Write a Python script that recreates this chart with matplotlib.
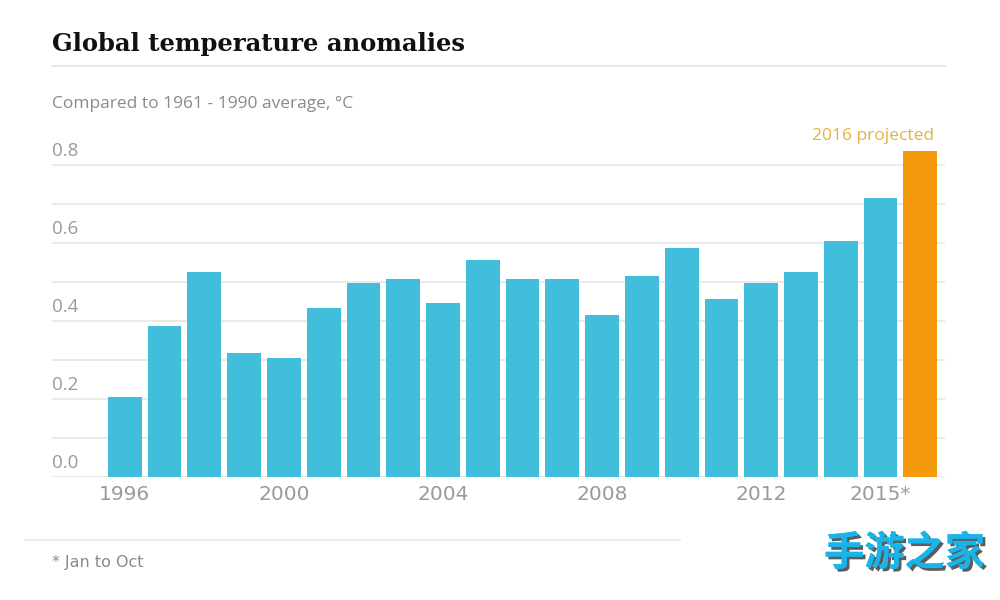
import matplotlib.pyplot as plt
import matplotlib.patheffects as pe
from matplotlib.transforms import blended_transform_factory

# data
years = list(range(1996, 2017))
anomaly = [0.205, 0.387, 0.526, 0.318, 0.305, 0.433, 0.497, 0.508, 0.446, 0.556,
           0.508, 0.508, 0.415, 0.515, 0.587, 0.456, 0.497, 0.526, 0.605, 0.715,
           0.836]
tick_years = [1996, 2000, 2004, 2008, 2012, 2015]
tick_labels = ["1996", "2000", "2004", "2008", "2012", "2015*"]
y_ticks = [0.0, 0.2, 0.4, 0.6, 0.8]

blue = "#41bedb"
orange = "#f59a0c"
grey = "#9a9a9a"
narrow = ["Liberation Sans Narrow", "DejaVu Sans Condensed", "DejaVu Sans"]

fig = plt.figure(figsize=(10, 6), dpi=100)
ax = fig.add_axes([0.052, 0.205, 0.893, 0.585])

colors = [blue] * (len(years) - 1) + [orange]
ax.bar(years, anomaly, width=0.85, color=colors, zorder=2)

ax.set_xlim(1994.17, 2016.62)
ax.set_ylim(0, 0.9)

# gridlines every 0.1, labels only on 0.2 steps, sitting above the line
for i in range(9):
    ax.axhline(i / 10, color="#e6e6e6", lw=1.2, zorder=1)
trans = blended_transform_factory(ax.transAxes, ax.transData)
for v in y_ticks:
    ax.text(0.0, v + 0.012, f"{v:.1f}", transform=trans, ha="left", va="bottom",
            fontsize=13.5, color=grey, family="Open Sans")

ax.set_yticks([])
ax.set_xticks(tick_years)
ax.set_xticklabels(tick_labels, fontsize=14.5, color=grey, family=narrow)
ax.tick_params(axis="x", length=0, pad=6)
for s in ax.spines.values():
    s.set_visible(False)

ax.text(2016.35, 0.855, "2016 projected", ha="right", va="bottom",
        fontsize=12.5, color="#e8b040", family="Open Sans")

# header
fig.text(0.052, 0.927, "Global temperature anomalies", fontsize=17.5,
         fontweight="bold", family="DejaVu Serif", color="#111111", va="center")
fig.add_artist(plt.Line2D([0.052, 0.945], [0.89, 0.89], color="#e3e3e3", lw=1.2))
fig.text(0.052, 0.827, "Compared to 1961 - 1990 average, °C", fontsize=12.5,
         color="#8a8a8a", family="Open Sans", va="center")

# footer
fig.add_artist(plt.Line2D([0.025, 0.68], [0.1, 0.1], color="#e8e8e8", lw=1.2))
fig.text(0.052, 0.063, "* Jan to Oct", fontsize=11.5, color="#8a8a8a",
         family=narrow, va="center")

# watermark
fig.text(0.985, 0.077, "手游之家", fontsize=29, fontweight="bold", color="#19b5ea",
         family=["Noto Sans CJK SC", "DejaVu Sans"], ha="right", va="center",
         path_effects=[pe.withSimplePatchShadow(offset=(2, -2), shadow_rgbFace="#333333", alpha=0.8),
                       pe.Normal()])

fig.savefig("out.png", dpi=100)
